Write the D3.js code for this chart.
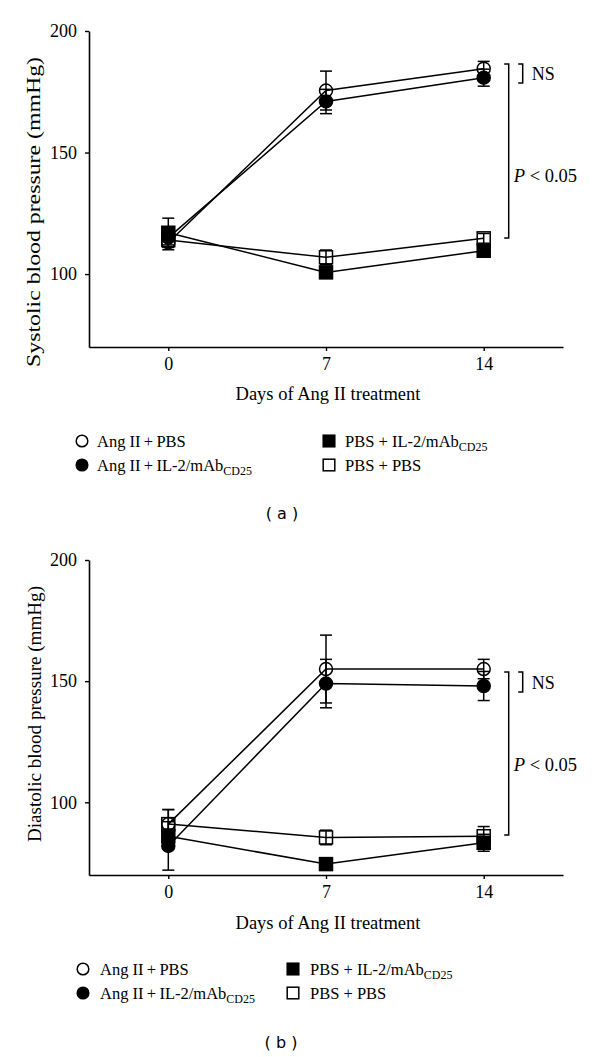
<!DOCTYPE html>
<html>
<head>
<meta charset="utf-8">
<script src="https://cdn.jsdelivr.net/npm/d3@7"></script>
<style>
  html, body { margin: 0; padding: 0; background: #fff; }
  svg { display: block; }
</style>
</head>
<body>
<svg id="chart" width="600" height="1057"></svg>
<script>
// ---------------- DATA ----------------
const days = [0, 7, 14];
const xTickLabels = ["0", "7", "14"];
const yTickValues = [100, 150, 200];
const seriesKeys = ["angPbs", "angIl2", "pbsIl2", "pbsPbs"];
const seriesMarkers = ["circleOpen", "circleFilled", "squareFilled", "squareOpen"];

// Systolic (panel a)
const sysAngPbs = [113, 175.5, 184.5];
const sysAngIl2 = [115, 171, 180.8];
const sysPbsIl2 = [117, 100.7, 109.6];
const sysPbsPbs = [114, 106.9, 114.7];
const sysAngPbsErr = [3, 8, 3];
const sysAngIl2Err = [3, 5, 3.5];
const sysPbsIl2Err = [6, 2, 1.5];
const sysPbsPbsErr = [3, 3, 2];

// Diastolic (panel b)
const diaAngPbs = [91, 155, 155];
const diaAngIl2 = [82, 149, 148];
const diaPbsIl2 = [86, 74.5, 83.3];
const diaPbsPbs = [91, 85.5, 86];
const diaAngPbsErr = [6, 14, 4];
const diaAngIl2Err = [10, 10, 6];
const diaPbsIl2Err = [3, 1, 3.5];
const diaPbsPbsErr = [6, 3, 4];

// significance brackets: [top, bottom] values, and value where the P label sits
const sysNsBracket = [186.4, 178.6];
const sysPBracket = [186.4, 114.8];
const sysPLabel = 140.7;
const diaNsBracket = [153.8, 145.5];
const diaPBracket = [153.8, 86.5];
const diaPLabel = 115.8;

// ---------------- DRAW ----------------
const svg = d3.select("#chart");
const SERIF = "'Liberation Serif', 'Times New Roman', serif";

function panel(cfg) {
  const g = svg.append("g");
  const x = d3.scaleLinear().domain([-3.52, 17.52]).range([89, 563]);
  const y = d3.scaleLinear().domain([70, 200]).range([cfg.bottom, cfg.top]);

  // axes
  const yAxis = d3.axisLeft(y).tickValues(yTickValues).tickSize(4).tickSizeOuter(0).tickPadding(8);
  const xAxis = d3.axisBottom(x).tickValues(days).tickFormat((d, i) => xTickLabels[i])
                  .tickSize(4).tickSizeOuter(0).tickPadding(6);
  const ya = g.append("g").attr("transform", `translate(${x.range()[0]},0)`).call(yAxis);
  const xa = g.append("g").attr("transform", `translate(0,${cfg.bottom})`).call(xAxis);
  [ya, xa].forEach(a => {
    a.select(".domain").attr("stroke", "#000").attr("stroke-width", 1.6);
    a.selectAll(".tick line").attr("stroke", "#000").attr("stroke-width", 1.4);
    a.selectAll(".tick text").attr("font-family", SERIF).attr("font-size", 18).attr("fill", "#000");
  });

  // axis titles
  g.append("text")
    .attr("transform", `translate(${cfg.ylabX},${cfg.ylabY}) rotate(-90)`)
    .attr("text-anchor", "middle")
    .attr("font-family", SERIF).attr("font-size", 18.5)
    .attr("textLength", cfg.ylabLen).attr("lengthAdjust", "spacingAndGlyphs")
    .text(cfg.ylabel);
  g.append("text")
    .attr("x", 328).attr("y", cfg.bottom + cfg.xlabDy)
    .attr("text-anchor", "middle")
    .attr("font-family", SERIF).attr("font-size", 18.5)
    .text("Days of Ang II treatment");

  const series = seriesKeys.map((k, i) => ({
    key: k, marker: seriesMarkers[i], values: cfg.values[i], errs: cfg.errs[i]
  }));

  // lines
  const line = d3.line().x((d, i) => x(days[i])).y(d => y(d));
  series.forEach(s => {
    g.append("path").attr("d", line(s.values)).attr("fill", "none")
      .attr("stroke", "#000").attr("stroke-width", 1.5);
  });

  // error bars
  const cap = 6;
  series.forEach(s => {
    s.values.forEach((v, i) => {
      const cx = x(days[i]);
      const y1 = y(v + s.errs[i]), y2 = y(v - s.errs[i]);
      g.append("line").attr("x1", cx).attr("x2", cx).attr("y1", y1).attr("y2", y2)
        .attr("stroke", "#000").attr("stroke-width", 1.5);
      [y1, y2].forEach(yy => g.append("line").attr("x1", cx - cap).attr("x2", cx + cap)
        .attr("y1", yy).attr("y2", yy).attr("stroke", "#000").attr("stroke-width", 1.5));
    });
  });

  // markers
  series.forEach(s => {
    s.values.forEach((v, i) => {
      drawMarker(g, s.marker, x(days[i]), y(v), 6.5);
    });
  });

  // brackets
  const nsX = x(14) + 39, pX = x(14) + 25;
  bracket(g, nsX, y(cfg.ns[0]), y(cfg.ns[1]), 4.5);
  bracket(g, pX, y(cfg.p[0]), y(cfg.p[1]), 4.5);
  g.append("text").attr("x", nsX + 9).attr("y", (y(cfg.ns[0]) + y(cfg.ns[1])) / 2 + 6.5)
    .attr("font-family", SERIF).attr("font-size", 18).text("NS");
  const pt = g.append("text").attr("x", pX + 5).attr("y", y(cfg.pLabel) + 6.5)
    .attr("font-family", SERIF).attr("font-size", 18.5);
  pt.append("tspan").attr("font-style", "italic").text("P");
  pt.append("tspan").text(" < 0.05");

  // legend
  const L = cfg.legend;
  const rows = [
    { m: "circleOpen", x: L.lx, tx: L.ltx, y: L.y0, t: "Ang II\u2009+\u2009PBS", sub: null },
    { m: "circleFilled", x: L.lx, tx: L.ltx, y: L.y1, t: "Ang II\u2009+\u2009IL-2/mAb", sub: "CD25" },
    { m: "squareFilled", x: L.rx, tx: L.rtx, y: L.y0, t: "PBS + IL-2/mAb", sub: "CD25" },
    { m: "squareOpen", x: L.rx, tx: L.rtx, y: L.y1, t: "PBS + PBS", sub: null }
  ];
  rows.forEach(r => {
    drawMarker(g, r.m, r.x, r.y, 5.8);
    const t = g.append("text").attr("x", r.tx).attr("y", r.y + 6)
      .attr("font-family", SERIF).attr("font-size", 16.5).text(r.t);
    if (r.sub) t.append("tspan").attr("font-size", 12).attr("dy", 4).text(r.sub);
  });

  // panel label
  g.append("text").attr("x", cfg.tagX).attr("y", cfg.tagY)
    .attr("text-anchor", "middle")
    .attr("font-family", "'DejaVu Sans', sans-serif").attr("font-size", 16)
    .attr("xml:space", "preserve")
    .text(cfg.tag);
}

function drawMarker(g, type, cx, cy, r) {
  if (type.startsWith("circle")) {
    g.append("circle").attr("cx", cx).attr("cy", cy).attr("r", r)
      .attr("fill", type === "circleFilled" ? "#000" : "none")
      .attr("stroke", "#000").attr("stroke-width", 1.5);
  } else {
    g.append("rect").attr("x", cx - r).attr("y", cy - r).attr("width", 2 * r).attr("height", 2 * r)
      .attr("fill", type === "squareFilled" ? "#000" : "none")
      .attr("stroke", "#000").attr("stroke-width", 1.5);
  }
}

function bracket(g, xv, yTop, yBot, arm) {
  g.append("path")
    .attr("d", `M${xv - arm},${yTop}H${xv}V${yBot}H${xv - arm}`)
    .attr("fill", "none").attr("stroke", "#000").attr("stroke-width", 1.5);
}

panel({
  top: 31, bottom: 347,
  ylabel: "Systolic blood pressure (mmHg)", ylabX: 40, ylabY: 212, ylabLen: 310,
  xlabDy: 53,
  values: [sysAngPbs, sysAngIl2, sysPbsIl2, sysPbsPbs],
  errs: [sysAngPbsErr, sysAngIl2Err, sysPbsIl2Err, sysPbsPbsErr],
  ns: sysNsBracket, p: sysPBracket, pLabel: sysPLabel,
  legend: { lx: 82, ltx: 97, rx: 329, rtx: 345, y0: 441, y1: 465 },
  tag: "( a )", tagX: 282, tagY: 519
});

panel({
  top: 560, bottom: 875,
  ylabel: "Diastolic blood pressure (mmHg)", ylabX: 41, ylabY: 714, ylabLen: 256,
  xlabDy: 54,
  values: [diaAngPbs, diaAngIl2, diaPbsIl2, diaPbsPbs],
  errs: [diaAngPbsErr, diaAngIl2Err, diaPbsIl2Err, diaPbsPbsErr],
  ns: diaNsBracket, p: diaPBracket, pLabel: diaPLabel,
  legend: { lx: 83, ltx: 100, rx: 293, rtx: 310, y0: 969, y1: 993 },
  tag: "( b )", tagX: 281, tagY: 1048
});
</script>
</body>
</html>
